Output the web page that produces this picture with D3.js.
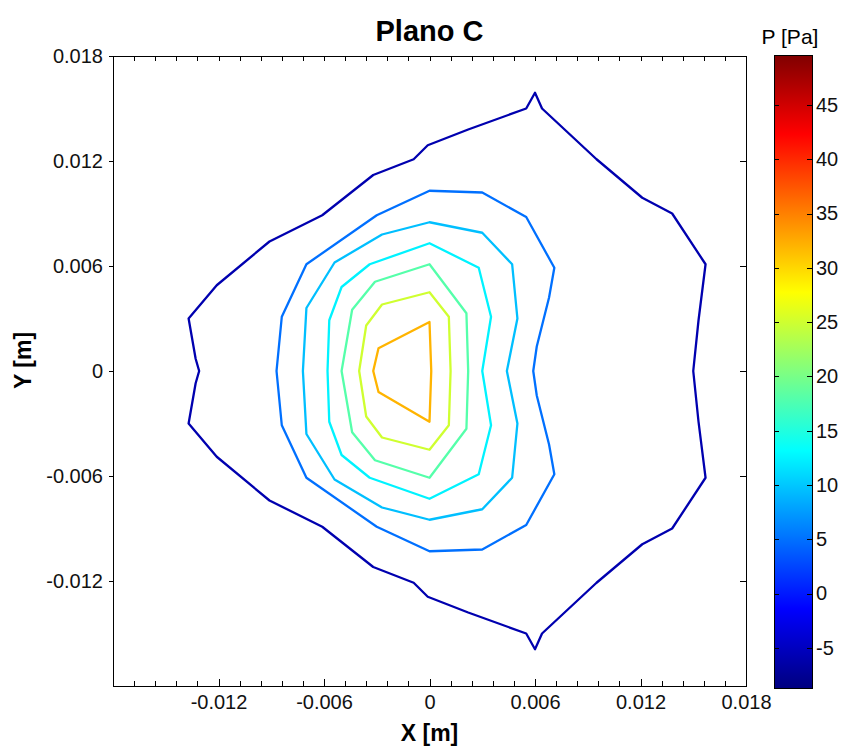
<!DOCTYPE html>
<meta charset="utf-8">
<style>

body {
  margin: 0;
  background: #fff;
}

svg {
  font-family: "Liberation Sans", Arial, sans-serif;
}

.axis path {
  display: none;
}

.axis line {
  stroke: #000;
  shape-rendering: crispEdges;
}

.axis text {
  font-size: 20px;
  fill: #111;
}

.frame {
  fill: none;
  stroke: #000;
  shape-rendering: crispEdges;
}

.contour {
  fill: none;
  stroke-width: 2.3;
  stroke-linejoin: round;
}

</style>
<body>
<script src="https://d3js.org/d3.v7.min.js"></script>
<script>

// contour levels [Pa] and color limits of the colorbar
var levels = [-6, 5, 9.5, 12.5, 18, 25, 32];
var colorLimits = [-8.7, 49.6];

// contour vertices, [x, y] in mm
var contour1 = [[-13.1,0],[-13.3,0.7],[-13.7,3.0],[-12.1,4.9],[-9.1,7.4],[-6.1,8.9],[-3.2,11.2],[-0.9,12.1],[-0.1,12.9],
  [2.2,13.8],[5.5,15.0],[6.0,15.9],[6.4,15.0],[9.5,12.1],[12.1,9.9],[13.8,9.0],[15.7,6.1],[15.3,2.9],[15.0,0],
  [15.3,-2.9],[15.7,-6.1],[13.8,-9.0],[12.1,-9.9],[9.5,-12.1],[6.4,-15.0],[6.0,-15.9],[5.5,-15.0],[2.2,-13.8],
  [-0.1,-12.9],[-0.9,-12.1],[-3.2,-11.2],[-6.1,-8.9],[-9.1,-7.4],[-12.1,-4.9],[-13.7,-3.0],[-13.3,-0.7]];
var contour2 = [[-8.7,0],[-8.4,3.1],[-7.0,6.1],[-3.0,8.9],[0,10.3],[3.0,10.2],[5.5,8.8],[7.1,5.9],[6.8,4.2],[6.1,1.4],[5.9,0],
  [6.1,-1.4],[6.8,-4.2],[7.1,-5.9],[5.5,-8.8],[3.0,-10.2],[0,-10.3],[-3.0,-8.9],[-7.0,-6.1],[-8.4,-3.1]];
var contour3 = [[-7.2,0],[-7.0,3.6],[-5.4,6.2],[-2.7,7.8],[0,8.5],[3.0,7.9],[4.7,6.1],[5.0,3.0],[4.4,0],
  [5.0,-3.0],[4.7,-6.1],[3.0,-7.9],[0,-8.5],[-2.7,-7.8],[-5.4,-6.2],[-7.0,-3.6]];
var contour4 = [[-5.8,0],[-5.7,2.9],[-5.0,4.8],[-3.4,6.1],[0,7.3],[2.8,5.9],[3.5,3.1],[3.0,0],
  [3.5,-3.1],[2.8,-5.9],[0,-7.3],[-3.4,-6.1],[-5.0,-4.8],[-5.7,-2.9]];
var contour5 = [[-5.0,0],[-4.4,3.5],[-3.1,5.1],[0,6.1],[2.1,3.3],[2.2,0],[2.1,-3.3],[0,-6.1],[-3.1,-5.1],[-4.4,-3.5]];
var contour6 = [[-4.0,0],[-3.6,2.6],[-2.7,3.8],[0,4.5],[1.1,3.1],[1.2,0],[1.1,-3.1],[0,-4.5],[-2.7,-3.8],[-3.6,-2.6]];
var contour7 = [[-3.2,0],[-2.9,1.3],[0,2.8],[0.1,0],[0,-2.9],[-2.9,-1.2]];

var contours = [contour1, contour2, contour3, contour4, contour5, contour6, contour7];

var xLabels = [-0.012, -0.006, 0, 0.006, 0.012, 0.018];
var yLabels = [-0.012, -0.006, 0, 0.006, 0.012, 0.018];
var cLabels = [-5, 0, 5, 10, 15, 20, 25, 30, 35, 40, 45];

var width = 842, height = 747;
var plot = {left: 113, right: 746, top: 56, bottom: 686};
var bar = {left: 774, right: 812, top: 55, bottom: 688};

var x = d3.scaleLinear().domain([-0.018, 0.018]).range([plot.left, plot.right]);
var y = d3.scaleLinear().domain([-0.018, 0.018]).range([plot.bottom, plot.top]);
var c = d3.scaleLinear().domain(colorLimits).range([bar.bottom, bar.top]);

function jet(t) {
  function cl(v) { return 255 * Math.max(0, Math.min(1, v)); }
  return d3.rgb(cl(1.5 - Math.abs(4 * t - 3)), cl(1.5 - Math.abs(4 * t - 2)), cl(1.5 - Math.abs(4 * t - 1)));
}

function levelColor(v) {
  return jet((v - colorLimits[0]) / (colorLimits[1] - colorLimits[0]));
}

function fmt(d) { return d === 0 ? "0" : d.toFixed(3); }

var svg = d3.select("body").append("svg")
    .attr("width", width)
    .attr("height", height);

// contour lines
var line = d3.line()
    .x(function(d) { return x(d[0] / 1000); })
    .y(function(d) { return y(d[1] / 1000); })
    .curve(d3.curveLinearClosed);

svg.selectAll(".contour")
    .data(contours)
  .enter().append("path")
    .attr("class", "contour")
    .attr("d", line)
    .style("stroke", function(d, i) { return levelColor(levels[i]); });

// frame and ticks
svg.append("rect")
    .attr("class", "frame")
    .attr("x", plot.left)
    .attr("y", plot.top)
    .attr("width", plot.right - plot.left)
    .attr("height", plot.bottom - plot.top);

var minorX = d3.range(-15, 16).map(function(i) { return i * 0.0012; });

svg.append("g")
    .attr("class", "axis")
    .attr("transform", "translate(0," + plot.bottom + ")")
    .call(d3.axisBottom(x).tickValues(minorX).tickSizeInner(-5).tickSizeOuter(0).tickFormat(""));

svg.append("g")
    .attr("class", "axis")
    .attr("transform", "translate(0," + plot.top + ")")
    .call(d3.axisTop(x).tickValues(minorX).tickSizeInner(-5).tickSizeOuter(0).tickFormat(""));

svg.append("g")
    .attr("class", "axis")
    .attr("transform", "translate(0," + plot.bottom + ")")
    .call(d3.axisBottom(x).tickValues(xLabels).tickSizeInner(-7).tickSizeOuter(0).tickPadding(9).tickFormat(fmt));

svg.append("g")
    .attr("class", "axis")
    .attr("transform", "translate(" + plot.left + ",0)")
    .call(d3.axisLeft(y).tickValues(yLabels).tickSizeInner(4).tickSizeOuter(0).tickPadding(6).tickFormat(fmt));

svg.append("g")
    .attr("class", "axis")
    .attr("transform", "translate(" + plot.right + ",0)")
    .call(d3.axisRight(y).tickValues(yLabels).tickSizeInner(-6).tickSizeOuter(0).tickFormat(""));

// titles
svg.append("text")
    .attr("x", x(0))
    .attr("y", 41)
    .attr("text-anchor", "middle")
    .style("font-size", "29px")
    .style("font-weight", "bold")
    .text("Plano C");

svg.append("text")
    .attr("x", x(0))
    .attr("y", 741)
    .attr("text-anchor", "middle")
    .style("font-size", "23px")
    .style("font-weight", "bold")
    .text("X [m]");

svg.append("text")
    .attr("transform", "translate(31," + y(0.0006) + ")rotate(-90)")
    .attr("text-anchor", "middle")
    .style("font-size", "23px")
    .style("font-weight", "bold")
    .text("Y [m]");

// colorbar
var grad = svg.append("defs").append("linearGradient")
    .attr("id", "jet")
    .attr("x1", 0).attr("y1", 1)
    .attr("x2", 0).attr("y2", 0);

grad.selectAll("stop")
    .data(d3.range(0, 65))
  .enter().append("stop")
    .attr("offset", function(d) { return d / 64; })
    .attr("stop-color", function(d) { return jet(d / 64); });

svg.append("rect")
    .attr("x", bar.left)
    .attr("y", bar.top)
    .attr("width", bar.right - bar.left)
    .attr("height", bar.bottom - bar.top)
    .style("fill", "url(#jet)");

svg.append("g")
    .attr("class", "axis")
    .attr("transform", "translate(" + bar.right + ",0)")
    .call(d3.axisRight(c).tickValues(cLabels).tickSizeInner(-5).tickSizeOuter(0).tickPadding(4))
  .selectAll("text")
    .text(function(d) { return String(d); });

svg.append("g")
    .attr("class", "axis")
    .attr("transform", "translate(" + bar.left + ",0)")
    .call(d3.axisLeft(c).tickValues(cLabels).tickSizeInner(-5).tickSizeOuter(0).tickFormat(""));

svg.append("rect")
    .attr("class", "frame")
    .attr("x", bar.left)
    .attr("y", bar.top)
    .attr("width", bar.right - bar.left)
    .attr("height", bar.bottom - bar.top);

svg.append("text")
    .attr("x", 790)
    .attr("y", 44)
    .attr("text-anchor", "middle")
    .style("font-size", "21px")
    .text("P [Pa]");

</script>
